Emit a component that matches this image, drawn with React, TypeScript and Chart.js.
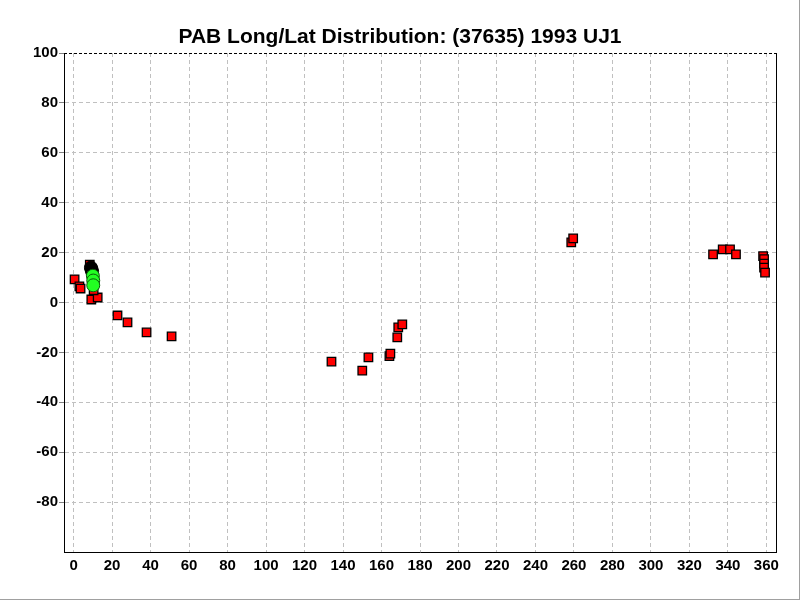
import { useEffect, useRef } from "react";
import { Chart, registerables } from "chart.js";

Chart.register(...registerables);

const chartTitle = "PAB Long/Lat Distribution: (37635) 1993 UJ1";

const xTickValues = [0, 20, 40, 60, 80, 100, 120, 140, 160, 180, 200, 220, 240, 260, 280, 300, 320, 340, 360];
const yTickValues = [-80, -60, -40, -20, 0, 20, 40, 60, 80, 100];

// red squares (observations)
const redLong = [0.5, 3, 3.6, 9.2, 12.5, 10.4, 8.4, 22.8, 28, 37.9, 50.9, 134, 150, 153.2, 164.1, 164.6, 168.2, 168.7, 170.8, 258.6, 259.6, 332.3, 337.3, 341.1, 344.2, 358.3, 358.8, 358.8, 358.8, 359.3];
const redLat = [9.3, 6.5, 5.6, 1.2, 2, 4.9, 15.2, -5.2, -8, -12, -13.6, -23.7, -27.3, -22, -21.5, -20.5, -14, -10, -8.8, 24.1, 25.7, 19.3, 21.3, 21.3, 19.3, 18.6, 17.4, 15.6, 14, 12];

// black circles
const blackLong = [9.0, 9.3, 9.6];
const blackLat = [14.0, 13.3, 12.4];

// green circles
const greenLong = [10.0, 10.2, 10.2];
const greenLat = [10.7, 8.8, 6.9];

const toPoints = (xs: number[], ys: number[]) => xs.map((x, i) => ({ x, y: ys[i] }));

const fontFamily = "'Liberation Sans', Arial, sans-serif";

const framePlugin = {
  id: "frame",
  afterDraw(chart: any) {
    const { ctx, chartArea } = chart;
    ctx.save();
    // title
    ctx.fillStyle = "#000";
    ctx.font = `bold 21px ${fontFamily}`;
    ctx.textAlign = "center";
    ctx.textBaseline = "alphabetic";
    ctx.fillText(chartTitle, 400, 43);
    // top dashed border
    ctx.strokeStyle = "#000";
    ctx.lineWidth = 1;
    ctx.setLineDash([3, 2]);
    ctx.beginPath();
    ctx.moveTo(chartArea.left, Math.round(chartArea.top) + 0.5);
    ctx.lineTo(chartArea.right, Math.round(chartArea.top) + 0.5);
    ctx.stroke();
    ctx.setLineDash([]);
    // right border
    ctx.beginPath();
    ctx.moveTo(Math.round(chartArea.right) + 0.5, chartArea.top);
    ctx.lineTo(Math.round(chartArea.right) + 0.5, chartArea.bottom);
    ctx.stroke();
    // outer gray frame
    ctx.strokeStyle = "#a0a0a0";
    ctx.beginPath();
    ctx.moveTo(799.5, 0);
    ctx.lineTo(799.5, 600);
    ctx.moveTo(0, 599.5);
    ctx.lineTo(800, 599.5);
    ctx.stroke();
    ctx.restore();
  },
};

export default function App() {
  const ref = useRef<HTMLCanvasElement | null>(null);

  useEffect(() => {
    if (!ref.current) return;
    const tickFont = { family: fontFamily, size: 15, weight: "bold" as const };
    const chart = new Chart(ref.current, {
      type: "scatter",
      data: {
        datasets: [
          {
            label: "green",
            data: toPoints(greenLong, greenLat),
            pointStyle: "circle",
            pointRadius: 6.5,
            backgroundColor: "#22ff22",
            borderColor: "#0a5a0a",
            borderWidth: 1,
            order: 0,
          },
          {
            label: "black",
            data: toPoints(blackLong, blackLat),
            pointStyle: "circle",
            pointRadius: 6.5,
            backgroundColor: "#000000",
            borderColor: "#000000",
            borderWidth: 1,
            order: 1,
          },
          {
            label: "red",
            data: toPoints(redLong, redLat),
            pointStyle: "rect",
            pointRadius: 6,
            backgroundColor: "#ff0000",
            borderColor: "#000000",
            borderWidth: 1.3,
            order: 2,
          },
        ],
      },
      options: {
        responsive: false,
        animation: false,
        layout: { padding: { top: 53, right: 24, left: 0, bottom: 0 } },
        plugins: {
          legend: { display: false },
          tooltip: { enabled: false },
          title: { display: false },
        },
        scales: {
          x: {
            type: "linear",
            min: -5,
            max: 365,
            afterBuildTicks: (scale: any) => {
              scale.ticks = xTickValues.map((v) => ({ value: v }));
            },
            afterFit: (scale: any) => {
              scale.height = 48;
            },
            ticks: { color: "#000", font: tickFont, padding: 5, autoSkip: false, maxRotation: 0 },
            grid: {
              color: "#c0c0c0",
              drawTicks: false,
            } as any,
            border: { display: true, color: "#000", width: 1, dash: [4, 3] } as any,
          },
          y: {
            type: "linear",
            min: -100,
            max: 100,
            afterBuildTicks: (scale: any) => {
              scale.ticks = yTickValues.map((v) => ({ value: v }));
            },
            afterFit: (scale: any) => {
              scale.width = 64;
            },
            ticks: { color: "#000", font: tickFont, padding: 1, autoSkip: false },
            grid: {
              color: (c: any) => (c.tick && c.tick.value === 100 ? "rgba(0,0,0,0)" : "#c0c0c0"),
              tickColor: "#808080",
              tickLength: 5,
              tickBorderDash: [],
              drawTicks: true,
            } as any,
            border: { display: true, color: "#000", width: 1, dash: [4, 3] } as any,
          },
        },
      },
      plugins: [framePlugin],
    } as any);
    return () => chart.destroy();
  }, []);

  return (
    <div style={{ position: "fixed", left: 0, top: 0, width: 800, height: 600, background: "#fff" }}>
      <canvas ref={ref} width={800} height={600} style={{ display: "block" }} />
    </div>
  );
}
